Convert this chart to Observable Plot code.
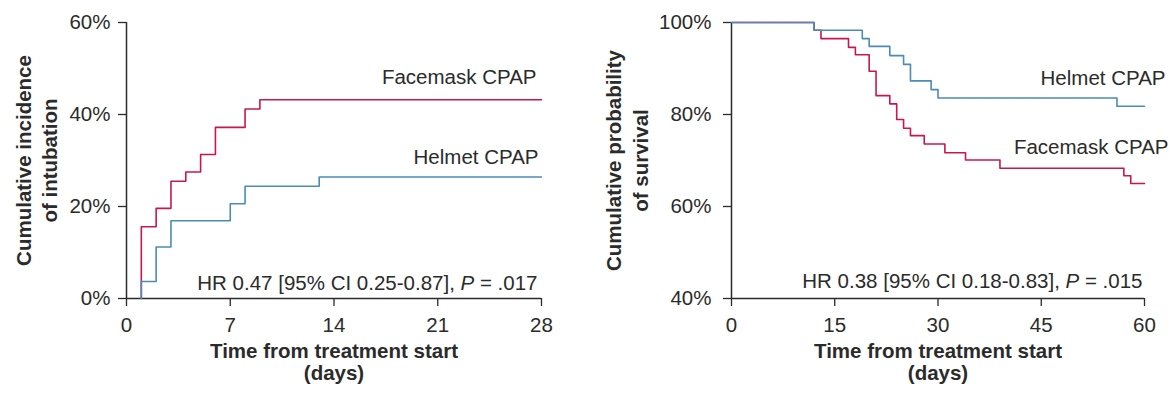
<!DOCTYPE html>
<html>
<head>
<meta charset="utf-8">
<script src="https://cdn.jsdelivr.net/npm/d3@7"></script>
<script src="https://cdn.jsdelivr.net/npm/@observablehq/plot@0.6"></script>
<style>
  html, body { margin: 0; padding: 0; background: white; }
  #wrap { display: flex; width: 1173px; height: 393px; }
</style>
</head>
<body>
<div id="wrap"></div>
<script>
// ---- Data ----
const seriesNames = ["Facemask CPAP", "Helmet CPAP"];

// Left panel: cumulative incidence of intubation (%)
const intubationFacemaskDays = [1, 1, 2, 3, 4, 5, 6, 8, 9, 28];
const intubationFacemaskPct  = [0, 15.6, 19.6, 25.5, 27.5, 31.3, 37.2, 41.2, 43.2, 43.2];
const intubationHelmetDays   = [1, 1, 2, 3, 7, 8, 13, 28];
const intubationHelmetPct    = [0, 3.7, 11.2, 16.9, 20.6, 24.4, 26.4, 26.4];
const intubationXTicks = [0, 7, 14, 21, 28];
const intubationYTicks = [0, 20, 40, 60];
const intubationNote = ["HR 0.47 [95% CI 0.25-0.87], ", "P", " = .017"];

// Right panel: cumulative probability of survival (%)
const survivalHelmetDays   = [0, 12, 19, 20, 23, 25, 26, 29, 30, 56, 60];
const survivalHelmetPct    = [100, 98.3, 96.5, 94.8, 92.8, 90.9, 87.3, 85.4, 83.6, 81.8, 81.8];
const survivalFacemaskDays = [0, 12, 13, 17, 18, 20, 21, 23, 24, 25, 26, 28, 31, 34, 39, 57, 58, 60];
const survivalFacemaskPct  = [100, 98.3, 96.5, 94.6, 93.0, 89.4, 84.1, 82.3, 78.9, 77.0, 75.4, 73.6, 71.7, 70.1, 68.3, 66.7, 65.0, 65.0];
const survivalXTicks = [0, 15, 30, 45, 60];
const survivalYTicks = [40, 60, 80, 100];
const survivalNote = ["HR 0.38 [95% CI 0.18-0.83], ", "P", " = .015"];

const xLabel = "Time from treatment start\n(days)";
const intubationYLabel = "Cumulative incidence\nof intubation";
const survivalYLabel = "Cumulative probability\nof survival";

// ---- Styles ----
const RED = "#c8174f";
const BLUE = "#4b8cb5";
const INK = "#2b2b2b";
const FONT = "'Liberation Sans', Arial, Helvetica, sans-serif";

const zip = (xs, ys) => xs.map((x, i) => ({x, y: ys[i]}));
const last = a => a[a.length - 1];

function italicizeNote(svg, parts) {
  d3.select(svg).selectAll("text").each(function () {
    if (this.textContent === parts.join("")) {
      const t = d3.select(this);
      t.text(null);
      t.append("tspan").text(parts[0]);
      t.append("tspan").attr("font-style", "italic").text(parts[1]);
      t.append("tspan").text(parts[2]);
    }
  });
}

// ---- Left panel ----
const left = Plot.plot({
  width: 586, height: 393,
  marginLeft: 126, marginRight: 45, marginTop: 22, marginBottom: 95,
  style: {fontFamily: FONT, fontSize: "20.5px", color: INK, background: "white", overflow: "visible"},
  x: {domain: [0, 28]},
  y: {domain: [0, 60]},
  marks: [
    Plot.axisX({ticks: intubationXTicks, tickSize: 8, tickPadding: 11, label: null, strokeWidth: 1.3}),
    Plot.axisY({ticks: intubationYTicks, tickSize: 8, tickPadding: 8, label: null, strokeWidth: 1.3, tickFormat: d => d + "%"}),
    Plot.ruleX([0], {stroke: INK, strokeWidth: 1.5}),
    Plot.ruleY([0], {stroke: INK, strokeWidth: 1.5}),
    Plot.line(zip(intubationFacemaskDays, intubationFacemaskPct), {x: "x", y: "y", curve: "step-after", stroke: RED, strokeWidth: 1.6}),
    Plot.line(zip(intubationHelmetDays, intubationHelmetPct), {x: "x", y: "y", curve: "step-after", stroke: BLUE, strokeWidth: 1.6}),
    Plot.text([seriesNames[0]], {x: last(intubationFacemaskDays), y: last(intubationFacemaskPct), text: d => d, textAnchor: "end", dx: -5, dy: -22.7, fill: INK}),
    Plot.text([seriesNames[1]], {x: last(intubationHelmetDays), y: last(intubationHelmetPct), text: d => d, textAnchor: "end", dx: -3, dy: -19.7, fill: INK}),
    Plot.text([intubationNote.join("")], {x: last(intubationXTicks), y: intubationYTicks[0], text: d => d, textAnchor: "end", dx: -4, dy: -15.4, fill: INK}),
    Plot.text([xLabel], {frameAnchor: "bottom", text: d => d, textAnchor: "middle", lineAnchor: "top", dy: 44, lineHeight: 1.08, fontWeight: "bold", fill: INK}),
    Plot.text([intubationYLabel], {frameAnchor: "left", text: d => d, rotate: -90, textAnchor: "middle", lineAnchor: "middle", lineHeight: 1.28, dx: -91, fontWeight: "bold", fill: INK})
  ]
});
italicizeNote(left, intubationNote);

// ---- Right panel ----
const right = Plot.plot({
  width: 587, height: 393,
  marginLeft: 145, marginRight: 29, marginTop: 22, marginBottom: 95,
  style: {fontFamily: FONT, fontSize: "20.5px", color: INK, background: "white", overflow: "visible"},
  x: {domain: [0, 60]},
  y: {domain: [40, 100]},
  marks: [
    Plot.axisX({ticks: survivalXTicks, tickSize: 8, tickPadding: 11, label: null, strokeWidth: 1.3}),
    Plot.axisY({ticks: survivalYTicks, tickSize: 8, tickPadding: 12, label: null, strokeWidth: 1.3, tickFormat: d => d + "%"}),
    Plot.ruleX([0], {stroke: INK, strokeWidth: 1.5}),
    Plot.ruleY([40], {stroke: INK, strokeWidth: 1.5}),
    Plot.line(zip(survivalFacemaskDays, survivalFacemaskPct), {x: "x", y: "y", curve: "step-after", stroke: RED, strokeWidth: 1.6}),
    Plot.line(zip(survivalHelmetDays, survivalHelmetPct), {x: "x", y: "y", curve: "step-after", stroke: BLUE, strokeWidth: 1.6}),
    Plot.text([seriesNames[1]], {x: last(survivalHelmetDays), y: last(survivalHelmetPct), text: d => d, textAnchor: "end", dx: 21, dy: -28, fill: INK}),
    Plot.text([seriesNames[0]], {x: last(survivalFacemaskDays), y: last(survivalFacemaskPct), text: d => d, textAnchor: "end", dx: 24, dy: -36, fill: INK}),
    Plot.text([survivalNote.join("")], {x: last(survivalXTicks), y: survivalYTicks[0], text: d => d, textAnchor: "end", dx: -2, dy: -17.4, fill: INK}),
    Plot.text([xLabel], {frameAnchor: "bottom", text: d => d, textAnchor: "middle", lineAnchor: "top", dy: 44, lineHeight: 1.08, fontWeight: "bold", fill: INK}),
    Plot.text([survivalYLabel], {frameAnchor: "left", text: d => d, rotate: -90, textAnchor: "middle", lineAnchor: "middle", lineHeight: 1.28, dx: -105.4, fontWeight: "bold", fill: INK})
  ]
});
italicizeNote(right, survivalNote);

document.getElementById("wrap").append(left, right);
</script>
</body>
</html>
